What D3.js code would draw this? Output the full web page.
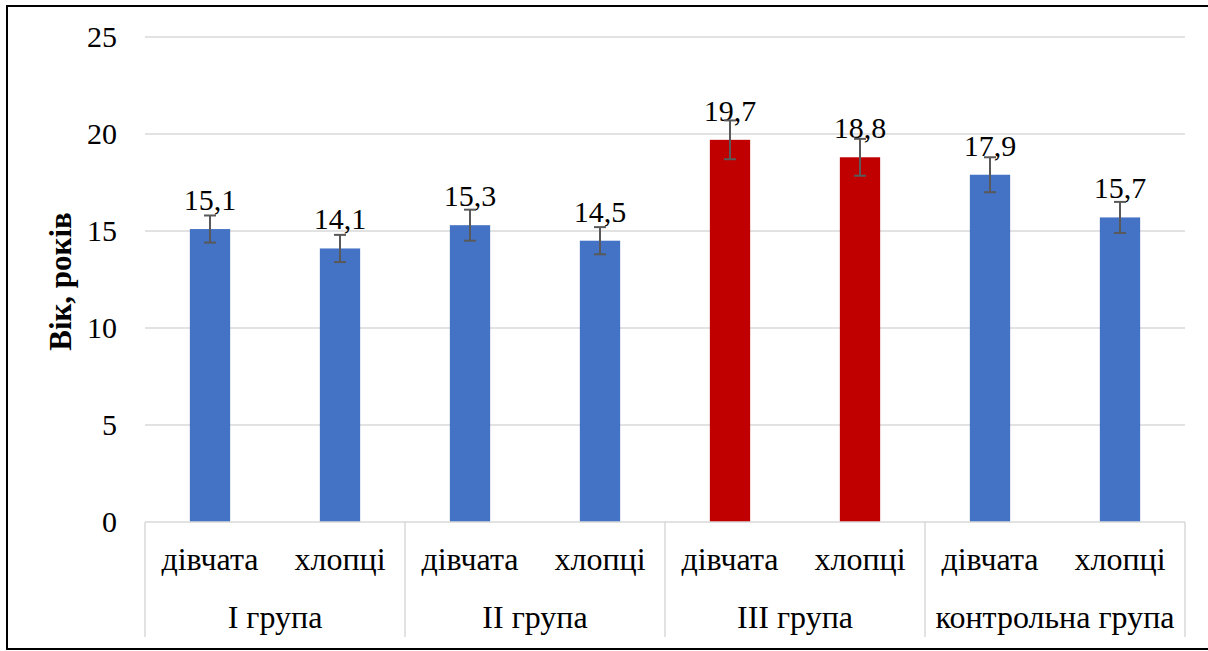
<!DOCTYPE html>
<html>
<head>
<meta charset="utf-8">
<script src="https://cdn.jsdelivr.net/npm/d3@7"></script>
<style>
  body { margin: 0; background: #fff; }
</style>
</head>
<body>
<div id="chart"></div>
<script>
// chart data
var groups = ["І група", "ІІ група", "ІІІ група", "контрольна група"];
var subgroups = ["дівчата", "хлопці"];
var values = [15.1, 14.1, 15.3, 14.5, 19.7, 18.8, 17.9, 15.7];
var errors = [0.7, 0.7, 0.8, 0.7, 1.0, 0.95, 0.9, 0.8];
var barColors = ["#4472C4", "#4472C4", "#4472C4", "#4472C4", "#C00000", "#C00000", "#4472C4", "#4472C4"];
var yTicks = [0, 5, 10, 15, 20, 25];

var width = 1208, height = 651;
var margin = { top: 37, right: 23, bottom: 129, left: 145 };
var fs = 30;      // numbers
var fsCat = 32;   // category text
var font = "Liberation Serif";

var svg = d3.select("#chart").append("svg")
    .attr("width", width)
    .attr("height", height);

// outer frame
svg.append("rect")
    .attr("x", 7).attr("y", 6)
    .attr("width", 1215).attr("height", 643)
    .attr("fill", "none")
    .attr("stroke", "#000")
    .attr("stroke-width", 2);

var data = values.map(function(v, i) {
  return { id: i, group: groups[Math.floor(i / 2)], sub: subgroups[i % 2], value: v, err: errors[i], color: barColors[i] };
});

var x0 = margin.left, x1 = width - margin.right;
var y0 = height - margin.bottom, y1 = margin.top;

var x = d3.scaleBand()
    .domain(data.map(function(d) { return d.id; }))
    .range([x0, x1])
    .padding(0);

var xg = d3.scaleBand()
    .domain(groups)
    .range([x0, x1])
    .padding(0);

var y = d3.scaleLinear()
    .domain([0, 25])
    .range([y0, y1]);

var barW = x.bandwidth() * 0.31;

// gridlines
svg.append("g")
  .selectAll("line")
  .data(yTicks.slice(1))
  .enter().append("line")
    .attr("x1", x0).attr("x2", x1)
    .attr("y1", function(d) { return y(d); })
    .attr("y2", function(d) { return y(d); })
    .attr("stroke", "#d9d9d9")
    .attr("stroke-width", 1.5);

// y tick labels
svg.append("g")
  .selectAll("text")
  .data(yTicks)
  .enter().append("text")
    .attr("x", 117)
    .attr("y", function(d) { return y(d) + 10; })
    .attr("text-anchor", "end")
    .attr("font-family", font)
    .attr("font-size", fs)
    .text(function(d) { return d; });

// y axis title
svg.append("text")
    .attr("transform", "translate(71," + ((y0 + y1) / 2 + 2) + ") rotate(-90)")
    .attr("text-anchor", "middle")
    .attr("font-family", font)
    .attr("font-size", 31)
    .attr("font-weight", "bold")
    .text("Вік, років");

// bars
svg.append("g")
  .selectAll("rect")
  .data(data)
  .enter().append("rect")
    .attr("x", function(d) { return x(d.id) + (x.bandwidth() - barW) / 2; })
    .attr("y", function(d) { return y(d.value); })
    .attr("width", barW)
    .attr("height", function(d) { return y(0) - y(d.value); })
    .attr("fill", function(d) { return d.color; });

// value labels
svg.append("g")
  .selectAll("text")
  .data(data)
  .enter().append("text")
    .attr("x", function(d) { return x(d.id) + x.bandwidth() / 2; })
    .attr("y", function(d) { return y(d.value) - 19; })
    .attr("text-anchor", "middle")
    .attr("font-family", font)
    .attr("font-size", fs)
    .text(function(d) { return String(d.value).replace(".", ","); });

// error bars
var eb = svg.append("g")
    .attr("stroke", "#595959")
    .attr("stroke-width", 2);

data.forEach(function(d) {
  var cx = x(d.id) + x.bandwidth() / 2;
  eb.append("line")
      .attr("x1", cx).attr("x2", cx)
      .attr("y1", y(d.value + d.err)).attr("y2", y(d.value - d.err));
  [d.value + d.err, d.value - d.err].forEach(function(v) {
    eb.append("line")
        .attr("x1", cx - 6).attr("x2", cx + 6)
        .attr("y1", y(v)).attr("y2", y(v));
  });
});

// x axis line and group separators
svg.append("line")
    .attr("x1", x0).attr("x2", x1)
    .attr("y1", y0).attr("y2", y0)
    .attr("stroke", "#d9d9d9")
    .attr("stroke-width", 1.5);

svg.append("g")
  .selectAll("line")
  .data(groups.concat(["end"]))
  .enter().append("line")
    .attr("x1", function(d, i) { return i < groups.length ? xg(d) : x1; })
    .attr("x2", function(d, i) { return i < groups.length ? xg(d) : x1; })
    .attr("y1", y0).attr("y2", 637)
    .attr("stroke", "#d9d9d9")
    .attr("stroke-width", 1.5);

// category labels
svg.append("g")
  .selectAll("text")
  .data(data)
  .enter().append("text")
    .attr("x", function(d) { return x(d.id) + x.bandwidth() / 2; })
    .attr("y", 570)
    .attr("text-anchor", "middle")
    .attr("font-family", font)
    .attr("font-size", fsCat)
    .text(function(d) { return d.sub; });

// group labels
svg.append("g")
  .selectAll("text")
  .data(groups)
  .enter().append("text")
    .attr("x", function(d) { return xg(d) + xg.bandwidth() / 2; })
    .attr("y", 628)
    .attr("text-anchor", "middle")
    .attr("font-family", font)
    .attr("font-size", fsCat)
    .text(function(d) { return d; });
</script>
</body>
</html>
